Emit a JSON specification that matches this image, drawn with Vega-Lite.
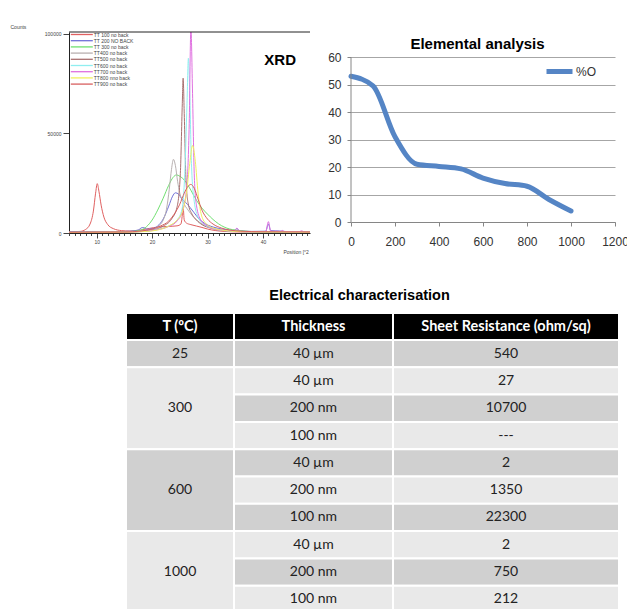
{
  "$schema": "https://vega.github.io/schema/vega-lite/v6.json",
  "background": "white",
  "padding": {"left": 10, "top": 24, "right": 0, "bottom": 0},
  "config": {"view": {"stroke": null}, "font": "Liberation Sans"},
  "bounds": "flush",
  "spacing": 281,
  "resolve": {"scale": {"color": "independent", "fill": "independent"}, "legend": {"color": "independent"}},
  "vconcat": [
    {
      "bounds": "flush",
      "spacing": 41,
      "resolve": {"scale": {"color": "independent"}, "legend": {"color": "independent"}},
      "hconcat": [
        {
          "width": 241,
          "height": 201,
          "title": {"text": "XRD", "anchor": "end", "frame": "group", "offset": 0, "baseline": "alphabetic", "dx": -14, "dy": 56, "fontSize": 15, "fontWeight": "bold", "font": "Liberation Sans", "color": "#000000"},
          "layer": [
            {
              "data": {"values": [
                {"s":"TT 100 no back","x":5,"y":600},{"s":"TT 100 no back","x":7,"y":800},{"s":"TT 100 no back","x":8,"y":1800},{"s":"TT 100 no back","x":8.8,"y":4500},{"s":"TT 100 no back","x":9.4,"y":11000},{"s":"TT 100 no back","x":9.8,"y":20000},{"s":"TT 100 no back","x":10.1,"y":24800},{"s":"TT 100 no back","x":10.4,"y":21000},{"s":"TT 100 no back","x":10.8,"y":14000},{"s":"TT 100 no back","x":11.3,"y":8000},{"s":"TT 100 no back","x":12,"y":4200},{"s":"TT 100 no back","x":13,"y":2200},{"s":"TT 100 no back","x":14.5,"y":1200},{"s":"TT 100 no back","x":16,"y":1000},{"s":"TT 100 no back","x":18,"y":1500},{"s":"TT 100 no back","x":19.5,"y":2300},{"s":"TT 100 no back","x":21,"y":3000},{"s":"TT 100 no back","x":23,"y":3300},{"s":"TT 100 no back","x":24.5,"y":3600},{"s":"TT 100 no back","x":25.2,"y":4500},{"s":"TT 100 no back","x":25.45,"y":9000},{"s":"TT 100 no back","x":25.6,"y":13200},{"s":"TT 100 no back","x":25.8,"y":6500},{"s":"TT 100 no back","x":26.2,"y":5000},{"s":"TT 100 no back","x":27,"y":4200},{"s":"TT 100 no back","x":28,"y":3500},{"s":"TT 100 no back","x":29,"y":2800},{"s":"TT 100 no back","x":30,"y":2000},{"s":"TT 100 no back","x":31.5,"y":1200},{"s":"TT 100 no back","x":33,"y":800},{"s":"TT 100 no back","x":36,"y":500},{"s":"TT 100 no back","x":40,"y":400},{"s":"TT 100 no back","x":48.5,"y":400},
                {"s":"TT 200 NO BACK","x":5,"y":700},{"s":"TT 200 NO BACK","x":8,"y":700},{"s":"TT 200 NO BACK","x":12,"y":600},{"s":"TT 200 NO BACK","x":16,"y":900},{"s":"TT 200 NO BACK","x":17.5,"y":1500},{"s":"TT 200 NO BACK","x":18.2,"y":2700},{"s":"TT 200 NO BACK","x":18.6,"y":2600},{"s":"TT 200 NO BACK","x":19,"y":1900},{"s":"TT 200 NO BACK","x":20,"y":2200},{"s":"TT 200 NO BACK","x":21,"y":3500},{"s":"TT 200 NO BACK","x":22,"y":7000},{"s":"TT 200 NO BACK","x":23,"y":13500},{"s":"TT 200 NO BACK","x":23.7,"y":18500},{"s":"TT 200 NO BACK","x":24.2,"y":20200},{"s":"TT 200 NO BACK","x":24.8,"y":19500},{"s":"TT 200 NO BACK","x":25.4,"y":17000},{"s":"TT 200 NO BACK","x":26,"y":15500},{"s":"TT 200 NO BACK","x":26.8,"y":13000},{"s":"TT 200 NO BACK","x":27.5,"y":10500},{"s":"TT 200 NO BACK","x":28.5,"y":7000},{"s":"TT 200 NO BACK","x":29.5,"y":4800},{"s":"TT 200 NO BACK","x":31,"y":3000},{"s":"TT 200 NO BACK","x":33,"y":1800},{"s":"TT 200 NO BACK","x":34.8,"y":1300},{"s":"TT 200 NO BACK","x":35.3,"y":2200},{"s":"TT 200 NO BACK","x":35.8,"y":1200},{"s":"TT 200 NO BACK","x":38,"y":800},{"s":"TT 200 NO BACK","x":40.5,"y":900},{"s":"TT 200 NO BACK","x":41,"y":4500},{"s":"TT 200 NO BACK","x":41.4,"y":1200},{"s":"TT 200 NO BACK","x":43,"y":1000},{"s":"TT 200 NO BACK","x":45,"y":600},{"s":"TT 200 NO BACK","x":48.5,"y":500},
                {"s":"TT 300 no back","x":5,"y":300},{"s":"TT 300 no back","x":12,"y":400},{"s":"TT 300 no back","x":16,"y":700},{"s":"TT 300 no back","x":18,"y":1500},{"s":"TT 300 no back","x":19,"y":3200},{"s":"TT 300 no back","x":20,"y":6500},{"s":"TT 300 no back","x":21,"y":11500},{"s":"TT 300 no back","x":22,"y":17500},{"s":"TT 300 no back","x":23,"y":24000},{"s":"TT 300 no back","x":23.8,"y":28000},{"s":"TT 300 no back","x":24.4,"y":29200},{"s":"TT 300 no back","x":25,"y":28500},{"s":"TT 300 no back","x":26,"y":26000},{"s":"TT 300 no back","x":27,"y":21500},{"s":"TT 300 no back","x":28,"y":16500},{"s":"TT 300 no back","x":29,"y":12500},{"s":"TT 300 no back","x":30,"y":9500},{"s":"TT 300 no back","x":31,"y":6800},{"s":"TT 300 no back","x":32,"y":4600},{"s":"TT 300 no back","x":33,"y":3000},{"s":"TT 300 no back","x":34,"y":2000},{"s":"TT 300 no back","x":35,"y":1500},{"s":"TT 300 no back","x":36.5,"y":1000},{"s":"TT 300 no back","x":39,"y":600},{"s":"TT 300 no back","x":43,"y":500},{"s":"TT 300 no back","x":48.5,"y":400},
                {"s":"TT400 no back","x":5,"y":300},{"s":"TT400 no back","x":15,"y":500},{"s":"TT400 no back","x":18,"y":900},{"s":"TT400 no back","x":20,"y":1800},{"s":"TT400 no back","x":21,"y":3200},{"s":"TT400 no back","x":22,"y":6500},{"s":"TT400 no back","x":22.6,"y":12000},{"s":"TT400 no back","x":23.1,"y":22000},{"s":"TT400 no back","x":23.5,"y":32000},{"s":"TT400 no back","x":23.85,"y":37000},{"s":"TT400 no back","x":24.2,"y":34000},{"s":"TT400 no back","x":24.6,"y":26000},{"s":"TT400 no back","x":25,"y":20000},{"s":"TT400 no back","x":25.6,"y":15500},{"s":"TT400 no back","x":26.5,"y":11500},{"s":"TT400 no back","x":27.5,"y":8000},{"s":"TT400 no back","x":28.5,"y":5500},{"s":"TT400 no back","x":29.5,"y":3800},{"s":"TT400 no back","x":31,"y":2300},{"s":"TT400 no back","x":33,"y":1400},{"s":"TT400 no back","x":35,"y":900},{"s":"TT400 no back","x":40,"y":500},{"s":"TT400 no back","x":48.5,"y":400},
                {"s":"TT500 no back","x":5,"y":300},{"s":"TT500 no back","x":15,"y":400},{"s":"TT500 no back","x":18,"y":800},{"s":"TT500 no back","x":20,"y":1500},{"s":"TT500 no back","x":22,"y":3500},{"s":"TT500 no back","x":23.5,"y":7000},{"s":"TT500 no back","x":24.5,"y":13000},{"s":"TT500 no back","x":25.1,"y":30000},{"s":"TT500 no back","x":25.45,"y":65000},{"s":"TT500 no back","x":25.6,"y":77800},{"s":"TT500 no back","x":25.8,"y":60000},{"s":"TT500 no back","x":26.1,"y":28000},{"s":"TT500 no back","x":26.5,"y":15000},{"s":"TT500 no back","x":27.2,"y":9500},{"s":"TT500 no back","x":28,"y":6500},{"s":"TT500 no back","x":29,"y":4200},{"s":"TT500 no back","x":30.5,"y":2500},{"s":"TT500 no back","x":32,"y":1500},{"s":"TT500 no back","x":35,"y":800},{"s":"TT500 no back","x":40,"y":500},{"s":"TT500 no back","x":48.5,"y":400},
                {"s":"TT600 no back","x":5,"y":300},{"s":"TT600 no back","x":15,"y":400},{"s":"TT600 no back","x":19,"y":900},{"s":"TT600 no back","x":21,"y":1800},{"s":"TT600 no back","x":23,"y":3500},{"s":"TT600 no back","x":24.5,"y":6500},{"s":"TT600 no back","x":25.4,"y":12000},{"s":"TT600 no back","x":25.9,"y":30000},{"s":"TT600 no back","x":26.3,"y":65000},{"s":"TT600 no back","x":26.55,"y":87800},{"s":"TT600 no back","x":26.8,"y":70000},{"s":"TT600 no back","x":27.1,"y":35000},{"s":"TT600 no back","x":27.6,"y":16000},{"s":"TT600 no back","x":28.3,"y":8000},{"s":"TT600 no back","x":29.3,"y":4500},{"s":"TT600 no back","x":31,"y":2200},{"s":"TT600 no back","x":33,"y":1200},{"s":"TT600 no back","x":35,"y":800},{"s":"TT600 no back","x":40,"y":500},{"s":"TT600 no back","x":48.5,"y":400},
                {"s":"TT700 no back","x":5,"y":300},{"s":"TT700 no back","x":15,"y":400},{"s":"TT700 no back","x":19,"y":900},{"s":"TT700 no back","x":21,"y":1700},{"s":"TT700 no back","x":23,"y":3300},{"s":"TT700 no back","x":24.5,"y":6000},{"s":"TT700 no back","x":25.5,"y":11000},{"s":"TT700 no back","x":26.3,"y":25000},{"s":"TT700 no back","x":26.7,"y":55000},{"s":"TT700 no back","x":27,"y":103000},{"s":"TT700 no back","x":27.3,"y":70000},{"s":"TT700 no back","x":27.6,"y":30000},{"s":"TT700 no back","x":28,"y":14000},{"s":"TT700 no back","x":28.8,"y":6500},{"s":"TT700 no back","x":30,"y":3500},{"s":"TT700 no back","x":32,"y":1600},{"s":"TT700 no back","x":34.8,"y":1000},{"s":"TT700 no back","x":35.3,"y":2400},{"s":"TT700 no back","x":35.8,"y":900},{"s":"TT700 no back","x":38,"y":600},{"s":"TT700 no back","x":40.5,"y":700},{"s":"TT700 no back","x":41,"y":5700},{"s":"TT700 no back","x":41.4,"y":900},{"s":"TT700 no back","x":43.2,"y":800},{"s":"TT700 no back","x":43.5,"y":1300},{"s":"TT700 no back","x":44,"y":600},{"s":"TT700 no back","x":46.5,"y":600},{"s":"TT700 no back","x":47,"y":1100},{"s":"TT700 no back","x":47.5,"y":500},{"s":"TT700 no back","x":48.5,"y":400},
                {"s":"TT800 nno back","x":5,"y":300},{"s":"TT800 nno back","x":15,"y":400},{"s":"TT800 nno back","x":19,"y":800},{"s":"TT800 nno back","x":21,"y":1500},{"s":"TT800 nno back","x":23,"y":3500},{"s":"TT800 nno back","x":24.5,"y":6500},{"s":"TT800 nno back","x":25.5,"y":11000},{"s":"TT800 nno back","x":26.2,"y":20000},{"s":"TT800 nno back","x":26.8,"y":35000},{"s":"TT800 nno back","x":27.3,"y":44000},{"s":"TT800 nno back","x":27.8,"y":36000},{"s":"TT800 nno back","x":28.3,"y":20000},{"s":"TT800 nno back","x":28.9,"y":9000},{"s":"TT800 nno back","x":29.8,"y":4500},{"s":"TT800 nno back","x":31,"y":2500},{"s":"TT800 nno back","x":33,"y":1300},{"s":"TT800 nno back","x":35,"y":800},{"s":"TT800 nno back","x":40,"y":500},{"s":"TT800 nno back","x":48.5,"y":400},
                {"s":"TT900 no back","x":5,"y":400},{"s":"TT900 no back","x":15,"y":500},{"s":"TT900 no back","x":18,"y":1000},{"s":"TT900 no back","x":20,"y":2000},{"s":"TT900 no back","x":21.5,"y":3500},{"s":"TT900 no back","x":23,"y":6000},{"s":"TT900 no back","x":24,"y":9500},{"s":"TT900 no back","x":25,"y":14500},{"s":"TT900 no back","x":25.8,"y":20000},{"s":"TT900 no back","x":26.5,"y":23500},{"s":"TT900 no back","x":27,"y":24400},{"s":"TT900 no back","x":27.6,"y":22500},{"s":"TT900 no back","x":28.3,"y":17000},{"s":"TT900 no back","x":29,"y":11500},{"s":"TT900 no back","x":30,"y":7000},{"s":"TT900 no back","x":31,"y":4500},{"s":"TT900 no back","x":32.5,"y":2500},{"s":"TT900 no back","x":34,"y":1500},{"s":"TT900 no back","x":36,"y":900},{"s":"TT900 no back","x":40,"y":600},{"s":"TT900 no back","x":48.5,"y":500}
              ]},
              "mark": {"type": "line", "strokeWidth": 1, "clip": true, "interpolate": "monotone"},
              "encoding": {
                "x": {"field": "x", "type": "quantitative", "scale": {"domain": [5, 48.5], "nice": false, "zero": false},
                  "axis": {"values": [5,6,7,8,9,10,11,12,13,14,15,16,17,18,19,20,21,22,23,24,25,26,27,28,29,30,31,32,33,34,35,36,37,38,39,40,41,42,43,44,45,46,47,48],
                    "labelExpr": "datum.value % 10 === 0 ? datum.label : ''",
                    "tickSize": {"condition": {"test": "datum.value % 10 === 0", "value": 5}, "value": 2.5},
                    "labelOverlap": false, "labelFlush": false,
                    "domainColor": "#222222", "tickColor": "#444444", "labelFontSize": 5, "labelColor": "#444444", "labelPadding": 1, "grid": false,
                    "title": "Position [°2", "titleFontSize": 5, "titleFontWeight": "normal", "titleColor": "#444444", "titleX": 214, "titleY": 18, "titleAlign": "left", "titleBaseline": "middle"}},
                "y": {"field": "y", "type": "quantitative", "scale": {"domain": [0, 101000], "nice": false},
                  "axis": {"values": [0, 50000, 100000], "format": "d", "tickSize": 6, "labelPadding": 2, "labelFontSize": 5, "labelColor": "#444444", "domainColor": "#222222", "tickColor": "#444444", "grid": false, "labelOverlap": false,
                    "title": "Counts", "titleAngle": 0, "titleX": -59, "titleY": -6, "titleAlign": "left", "titleBaseline": "middle", "titleFontSize": 5, "titleFontWeight": "normal", "titleColor": "#444444"}},
                "color": {"field": "s", "type": "nominal",
                  "scale": {"domain": ["TT 100 no back","TT 200 NO BACK","TT 300 no back","TT400 no back","TT500 no back","TT600 no back","TT700 no back","TT800 nno back","TT900 no back"],
                            "range": ["#e06060","#7070d8","#70e070","#b8b0b0","#a87070","#90eef0","#e070e0","#f0f060","#d86060"]},
                  "legend": {"orient": "none", "legendX": 10.3, "legendY": 0, "title": null, "symbolType": "M-10,0H10", "symbolSize": 4.84, "symbolStrokeWidth": 1.3, "labelFontSize": 5, "labelFont": "Liberation Sans", "labelColor": "#444444", "labelOffset": 9.5, "rowPadding": -0.8, "padding": 0}}
              }
            },
            {
              "data": {"values": [{}]},
              "mark": {"type": "rule", "color": "#222222", "strokeWidth": 1},
              "encoding": {"y": {"datum": 101000}}
            }
          ]
        },
        {
          "width": 264,
          "height": 190,
          "title": {"text": "Elemental analysis", "anchor": "middle", "frame": "group", "offset": 0, "baseline": "alphabetic", "dx": -5.5, "dy": 31.5, "fontSize": 15, "fontWeight": "bold", "font": "Liberation Sans", "color": "#000000"},
          "layer": [
            {
              "data": {"values": [
                {"series":"%O","temp":0,"pct":53},{"series":"%O","temp":100,"pct":49.5},{"series":"%O","temp":200,"pct":31},{"series":"%O","temp":300,"pct":21},{"series":"%O","temp":400,"pct":20.2},{"series":"%O","temp":500,"pct":19.3},{"series":"%O","temp":600,"pct":16},{"series":"%O","temp":700,"pct":14},{"series":"%O","temp":800,"pct":13},{"series":"%O","temp":900,"pct":8.2},{"series":"%O","temp":1000,"pct":4}
              ]},
              "mark": {"type": "line", "strokeWidth": 5, "strokeCap": "round", "strokeJoin": "round", "interpolate": "monotone"},
              "encoding": {
                "x": {"field": "temp", "type": "quantitative", "scale": {"domain": [0, 1200], "nice": false},
                  "axis": {"values": [0,200,400,600,800,1000,1200], "format": "d", "tickSize": 4, "labelPadding": 10, "domainColor": "#868686", "tickColor": "#868686", "labelFontSize": 12, "labelColor": "#333333", "grid": false, "title": null, "labelFlush": false, "labelOverlap": false}},
                "y": {"field": "pct", "type": "quantitative", "scale": {"domain": [0, 69.1], "nice": false},
                  "axis": {"values": [0,10,20,30,40,50,60], "tickSize": 4, "labelPadding": 6, "domain": false, "grid": true, "gridColor": "#a6a6a6", "tickColor": "#868686", "labelFontSize": 12, "labelColor": "#333333", "title": null, "labelOverlap": false}},
                "color": {"field": "series", "type": "nominal", "scale": {"domain": ["%O"], "range": ["#5585c5"]},
                  "legend": {"orient": "none", "legendX": 193, "legendY": 24, "title": null, "symbolType": "stroke", "symbolSize": 676, "symbolStrokeWidth": 5, "labelFontSize": 12, "labelColor": "#333333", "labelOffset": 1, "padding": 0}}
              }
            },
            {
              "data": {"values": [{}]},
              "mark": {"type": "rule", "color": "#868686", "strokeWidth": 1},
              "encoding": {
                "x": {"datum": 0, "type": "quantitative",
                  "axis": {"values": [0,200,400,600,800,1000,1200], "format": "d", "tickSize": 4, "labelPadding": 10, "domainColor": "#868686", "tickColor": "#868686", "labelFontSize": 12, "labelColor": "#333333", "grid": false, "title": null, "labelFlush": false, "labelOverlap": false}},
                "y": {"datum": 0, "type": "quantitative",
                  "axis": {"values": [0,10,20,30,40,50,60], "tickSize": 4, "labelPadding": 6, "domain": false, "grid": true, "gridColor": "#a6a6a6", "tickColor": "#868686", "labelFontSize": 12, "labelColor": "#333333", "title": null, "labelOverlap": false}},
                "y2": {"datum": 60}
              }
            }
          ]
        }
      ]
    },
    {
      "width": 550,
      "height": 300,
      "title": {"text": "Electrical characterisation", "anchor": "middle", "frame": "group", "offset": 0, "baseline": "alphabetic", "dx": 15.5, "dy": 2, "fontSize": 14.5, "fontWeight": "bold", "font": "Liberation Sans", "color": "#000000"},
      "data": {"values": [
        {"c0":0,"c1":1,"cm":0.5,"r0":0,"r1":1,"rm":0.5,"band":"H","t":"T (ºC)"},
        {"c0":1,"c1":2,"cm":1.5,"r0":0,"r1":1,"rm":0.5,"band":"H","t":"Thickness"},
        {"c0":2,"c1":3,"cm":2.5,"r0":0,"r1":1,"rm":0.5,"band":"H","t":"Sheet Resistance (ohm/sq)"},
        {"c0":0,"c1":1,"cm":0.5,"r0":1,"r1":2,"rm":1.5,"band":"D","t":"25"},
        {"c0":1,"c1":2,"cm":1.5,"r0":1,"r1":2,"rm":1.5,"band":"D","t":"40 µm"},
        {"c0":2,"c1":3,"cm":2.5,"r0":1,"r1":2,"rm":1.5,"band":"D","t":"540"},
        {"c0":0,"c1":1,"cm":0.5,"r0":2,"r1":5,"rm":3.5,"band":"L","t":"300"},
        {"c0":1,"c1":2,"cm":1.5,"r0":2,"r1":3,"rm":2.5,"band":"L","t":"40 µm"},
        {"c0":2,"c1":3,"cm":2.5,"r0":2,"r1":3,"rm":2.5,"band":"L","t":"27"},
        {"c0":1,"c1":2,"cm":1.5,"r0":3,"r1":4,"rm":3.5,"band":"D","t":"200 nm"},
        {"c0":2,"c1":3,"cm":2.5,"r0":3,"r1":4,"rm":3.5,"band":"D","t":"10700"},
        {"c0":1,"c1":2,"cm":1.5,"r0":4,"r1":5,"rm":4.5,"band":"L","t":"100 nm"},
        {"c0":2,"c1":3,"cm":2.5,"r0":4,"r1":5,"rm":4.5,"band":"L","t":"---"},
        {"c0":0,"c1":1,"cm":0.5,"r0":5,"r1":8,"rm":6.5,"band":"D","t":"600"},
        {"c0":1,"c1":2,"cm":1.5,"r0":5,"r1":6,"rm":5.5,"band":"D","t":"40 µm"},
        {"c0":2,"c1":3,"cm":2.5,"r0":5,"r1":6,"rm":5.5,"band":"D","t":"2"},
        {"c0":1,"c1":2,"cm":1.5,"r0":6,"r1":7,"rm":6.5,"band":"L","t":"200 nm"},
        {"c0":2,"c1":3,"cm":2.5,"r0":6,"r1":7,"rm":6.5,"band":"L","t":"1350"},
        {"c0":1,"c1":2,"cm":1.5,"r0":7,"r1":8,"rm":7.5,"band":"D","t":"100 nm"},
        {"c0":2,"c1":3,"cm":2.5,"r0":7,"r1":8,"rm":7.5,"band":"D","t":"22300"},
        {"c0":0,"c1":1,"cm":0.5,"r0":8,"r1":11,"rm":9.5,"band":"L","t":"1000"},
        {"c0":1,"c1":2,"cm":1.5,"r0":8,"r1":9,"rm":8.5,"band":"L","t":"40 µm"},
        {"c0":2,"c1":3,"cm":2.5,"r0":8,"r1":9,"rm":8.5,"band":"L","t":"2"},
        {"c0":1,"c1":2,"cm":1.5,"r0":9,"r1":10,"rm":9.5,"band":"D","t":"200 nm"},
        {"c0":2,"c1":3,"cm":2.5,"r0":9,"r1":10,"rm":9.5,"band":"D","t":"750"},
        {"c0":1,"c1":2,"cm":1.5,"r0":10,"r1":11,"rm":10.5,"band":"L","t":"100 nm"},
        {"c0":2,"c1":3,"cm":2.5,"r0":10,"r1":11,"rm":10.5,"band":"L","t":"212"}
      ]},
      "layer": [
        {
          "mark": {"type": "rect", "stroke": "white", "strokeWidth": 2},
          "encoding": {
            "x": {"field": "c0", "type": "quantitative", "scale": {"domain": [0,1,2,3], "range": [57,165,324,550], "nice": false, "zero": false}, "axis": null},
            "x2": {"field": "c1"},
            "y": {"field": "r0", "type": "quantitative", "scale": {"domain": [0,1,11], "range": [0,27,300], "nice": false, "zero": false}, "axis": null},
            "y2": {"field": "r1"},
            "fill": {"field": "band", "type": "nominal", "scale": {"domain": ["H","D","L"], "range": ["#000000","#d0d0d0","#e9e9e9"]}, "legend": null}
          }
        },
        {
          "transform": [{"filter": "datum.band === 'H'"}],
          "mark": {"type": "text", "color": "#ffffff", "font": "Lato", "fontWeight": "bold", "fontSize": 14.5, "baseline": "middle", "align": "center"},
          "encoding": {
            "x": {"field": "cm", "type": "quantitative"},
            "y": {"field": "rm", "type": "quantitative"},
            "text": {"field": "t", "type": "nominal"}
          }
        },
        {
          "transform": [{"filter": "datum.band !== 'H'"}],
          "mark": {"type": "text", "color": "#222222", "font": "Lato", "fontSize": 14, "baseline": "middle", "align": "center"},
          "encoding": {
            "x": {"field": "cm", "type": "quantitative"},
            "y": {"field": "rm", "type": "quantitative"},
            "text": {"field": "t", "type": "nominal"}
          }
        }
      ]
    }
  ]
}
